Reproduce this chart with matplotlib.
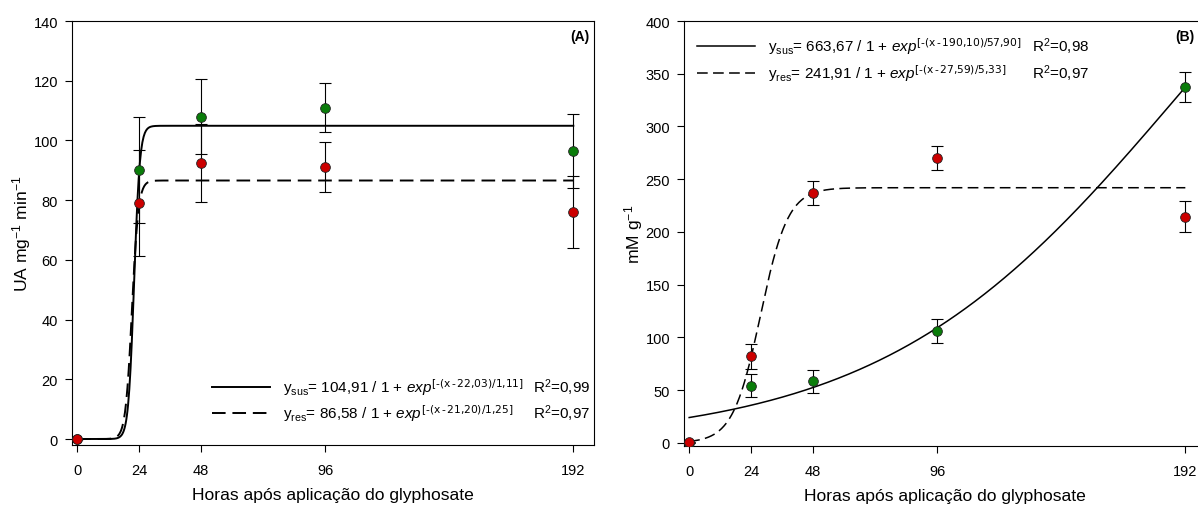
import numpy as np
import matplotlib
matplotlib.use("Agg")
import matplotlib.pyplot as plt
from matplotlib.lines import Line2D

# fonts
plt.rcParams['font.family'] = ['Liberation Sans', 'DejaVu Sans']
plt.rcParams['mathtext.fontset'] = 'custom'
plt.rcParams['mathtext.rm'] = 'Liberation Sans'
plt.rcParams['mathtext.it'] = 'Liberation Sans:italic'
plt.rcParams['mathtext.bf'] = 'Liberation Sans:bold'
plt.rcParams['mathtext.sf'] = 'Liberation Sans Narrow'

# data
horas = [0, 24, 48, 96, 192]

# (A) UA mg-1 min-1
a_sus = [0, 90, 108, 111, 96.5]
a_sus_err = [0, 17.7, 12.7, 8.3, 12.4]
a_res = [0, 79, 92.5, 91, 76]
a_res_err = [0, 17.8, 13, 8.4, 12]
# fitted params: a, x0, b  ->  a / (1 + exp(-(x - x0)/b))
a_sus_fit = [104.91, 22.03, 1.11]
a_res_fit = [86.58, 21.20, 1.25]

# (B) mM g-1
b_sus = [0, 54.3, 58.4, 105.7, 337.5]
b_sus_err = [0, 11, 11, 11.5, 14]
b_res = [0.5, 82, 237, 270, 214.5]
b_res_err = [0, 12, 11.5, 11.4, 14.8]
b_sus_fit = [663.67, 190.10, 57.90]
b_res_fit = [241.91, 27.59, 5.33]

lbl_a = [r"y$_{\mathrm{sus}}$= 104,91 / 1 + $\mathit{exp}^{\mathsf{[‐(x\,‐\,22{,}03)/1{,}11]}}$",
         r"y$_{\mathrm{res}}$= 86,58 / 1 + $\mathit{exp}^{\mathsf{[‐(x\,‐\,21{,}20)/1{,}25]}}$"]
r2_a = [r"R$^{2}$=0,99", r"R$^{2}$=0,97"]
lbl_b = [r"y$_{\mathrm{sus}}$= 663,67 / 1 + $\mathit{exp}^{\mathsf{[‐(x\,‐\,190{,}10)/57{,}90]}}$",
         r"y$_{\mathrm{res}}$= 241,91 / 1 + $\mathit{exp}^{\mathsf{[‐(x\,‐\,27{,}59)/5{,}33]}}$"]
r2_b = [r"R$^{2}$=0,98", r"R$^{2}$=0,97"]

verde = '#0a7d0a'
vermelho = '#cc0000'
dash = (7, 3.5)


def logistic(x, p):
    return p[0] / (1 + np.exp(-(x - p[1]) / p[2]))


def painel(ax, sus, sus_err, res, res_err, fit_s, fit_r, lw):
    x = np.linspace(0, 192, 800)
    ax.errorbar(horas, sus, yerr=sus_err, fmt='none', ecolor='black', elinewidth=0.8, capsize=4, capthick=0.8, zorder=2)
    ax.errorbar(horas, res, yerr=res_err, fmt='none', ecolor='black', elinewidth=0.8, capsize=4, capthick=0.8, zorder=2)
    ax.plot(x, logistic(x, fit_s), color='black', lw=lw, zorder=3)
    ax.plot(x, logistic(x, fit_r), color='black', lw=lw, dashes=dash, zorder=3)
    ax.plot(horas, sus, 'o', ms=7, mfc=verde, mec='#222222', mew=0.6, zorder=4)
    ax.plot(horas, res, 'o', ms=7, mfc=vermelho, mec='#222222', mew=0.6, zorder=4)
    ax.set_xlim(-2, 200)
    ax.set_xticks(horas)
    ax.tick_params(direction='out', length=5, width=0.8, labelsize=10.5)
    ax.tick_params(axis='x', pad=8)
    ax.tick_params(axis='y', pad=5)
    for s in ax.spines.values():
        s.set_linewidth(0.8)
    ax.set_xlabel('Horas após aplicação do glyphosate', fontsize=12.6, labelpad=7)


def legenda(ax, labels, r2, lw, cs, **kw):
    h = [Line2D([], [], color='black', lw=lw),
         Line2D([], [], color='black', lw=lw, dashes=dash),
         Line2D([], [], color='none'),
         Line2D([], [], color='none')]
    ax.legend(h, labels + r2, ncol=2, frameon=False, fontsize=11, handlelength=3.8,
              handletextpad=0.85, columnspacing=cs, borderpad=0, borderaxespad=0, **kw)


fig = plt.figure(figsize=(11.98, 5.10), dpi=100)
ax1 = fig.add_axes([72 / 1198, 1 - 446 / 510, 522 / 1198, 424 / 510])
ax2 = fig.add_axes([684 / 1198, 1 - 447 / 510, 522 / 1198, 425 / 510])

# (A)
painel(ax1, a_sus, a_sus_err, a_res, a_res_err, a_sus_fit, a_res_fit, 1.4)
ax1.set_ylim(-2, 140)
ax1.set_yticks(range(0, 141, 20))
ax1.set_ylabel(r'UA mg$^{-1}$ min$^{-1}$', fontsize=12.6, labelpad=0.5)
legenda(ax1, lbl_a, r2_a, 1.4, -4.05, loc='lower left', bbox_to_anchor=(140 / 522, 22 / 424), labelspacing=0.3)
ax1.annotate('(A)', xy=(1, 1), xycoords='axes fraction', xytext=(-3, -6), textcoords='offset points',
             ha='right', va='top', fontsize=10, fontweight='bold')

# (B)
painel(ax2, b_sus, b_sus_err, b_res, b_res_err, b_sus_fit, b_res_fit, 1.1)
ax2.set_ylim(-3, 400)
ax2.set_yticks(range(0, 401, 50))
ax2.set_ylabel(r'mM g$^{-1}$', fontsize=12.6, labelpad=0)
legenda(ax2, lbl_b, r2_b, 1.1, -4.0, loc='upper left', bbox_to_anchor=(13 / 522, 1 - 14 / 425), labelspacing=0.4)
ax2.annotate('(B)', xy=(1, 1), xycoords='axes fraction', xytext=(-8, -6), textcoords='offset points',
             ha='right', va='top', fontsize=10, fontweight='bold')

fig.savefig('out.png', dpi=100)
